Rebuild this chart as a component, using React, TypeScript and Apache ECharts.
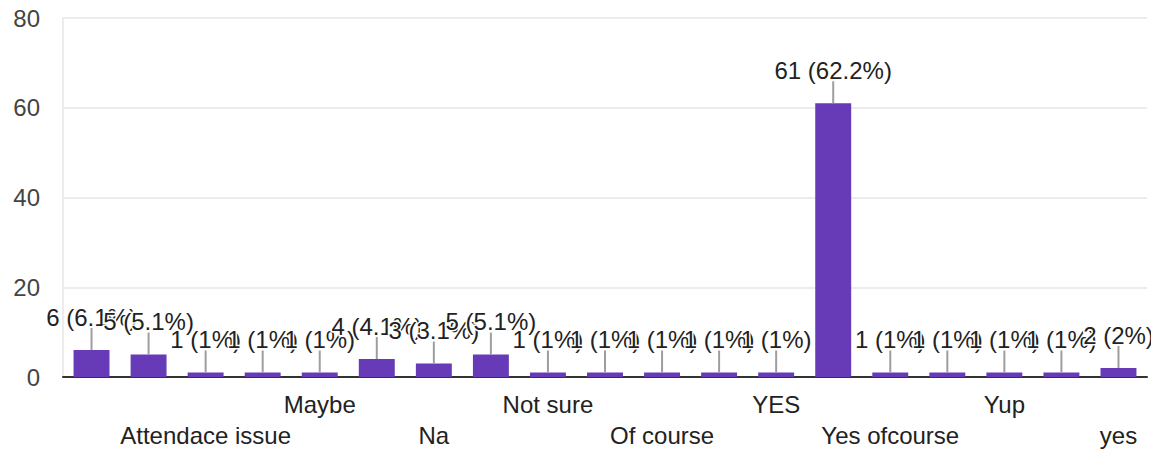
import React, { useEffect, useRef } from "react";
import * as echarts from "echarts";

const categories: string[] = [
  "", "", "Attendace issue", "", "Maybe", "", "Na", "", "Not sure", "",
  "Of course", "", "YES", "", "Yes ofcourse", "", "Yup", "", "yes",
];
const counts: number[] = [6, 5, 1, 1, 1, 4, 3, 5, 1, 1, 1, 1, 1, 61, 1, 1, 1, 1, 2];
const yTicks: number[] = [0, 20, 40, 60, 80];

const FONT = "'Liberation Sans', Arial, sans-serif";

const total = counts.reduce((a, b) => a + b, 0);
const pctText = (v: number) => {
  const p = Math.round((v / total) * 1000) / 10;
  return `${v} (${p % 1 === 0 ? p.toFixed(0) : p.toFixed(1)}%)`;
};

export default function App() {
  const ref = useRef<HTMLDivElement>(null);
  useEffect(() => {
    if (!ref.current) return;
    const chart = echarts.init(ref.current, undefined, { renderer: "svg" });
    chart.setOption({
      animation: false,
      grid: { left: 63, right: 4, top: 18, bottom: 73 },
      xAxis: {
        type: "category",
        data: categories,
        axisTick: { show: false },
        axisLine: { show: true, lineStyle: { color: "#333", width: 2 } },
        axisLabel: {
          interval: 0,
          hideOverlap: false,
          margin: 12,
          fontSize: 24,
          lineHeight: 31,
          color: "#222",
          fontFamily: FONT,
          formatter: (val: string, idx: number) => {
            if (!val) return "";
            return idx % 4 === 2 ? "\n" + val : val;
          },
        },
      },
      yAxis: {
        type: "value",
        min: yTicks[0],
        max: yTicks[yTicks.length - 1],
        interval: 20,
        axisLine: { show: true, lineStyle: { color: "#ececec", width: 2 } },
        axisTick: { show: false },
        splitLine: { lineStyle: { color: "#ececec", width: 2 } },
        axisLabel: { fontSize: 24, color: "#444", margin: 23, fontFamily: FONT },
      },
      series: [
        {
          type: "bar",
          data: counts,
          barWidth: "63%",
          itemStyle: { color: "#673ab7" },
          z: 2,
        },
        {
          type: "custom",
          z: 3,
          clip: false,
          data: counts.map((v, i) => [i, v]),
          renderItem: (params: any, api: any) => {
            const v = api.value(1);
            const p = api.coord([api.value(0), v]);
            return {
              type: "group",
              children: [
                {
                  type: "line",
                  shape: { x1: p[0], y1: p[1], x2: p[0], y2: p[1] - 22 },
                  style: { stroke: "#9e9e9e", lineWidth: 2 },
                },
                {
                  type: "text",
                  x: p[0],
                  y: p[1] - 33,
                  style: {
                    text: pctText(v),
                    align: "center",
                    verticalAlign: "middle",
                    font: `24px ${FONT}`,
                    fill: "#222",
                    stroke: "#fff",
                    lineWidth: 3,
                  },
                },
              ],
            };
          },
        },
      ],
    });
    return () => chart.dispose();
  }, []);
  return (
    <div
      ref={ref}
      style={{ position: "fixed", left: 0, top: 0, width: 1151, height: 451, background: "#fff" }}
    />
  );
}
